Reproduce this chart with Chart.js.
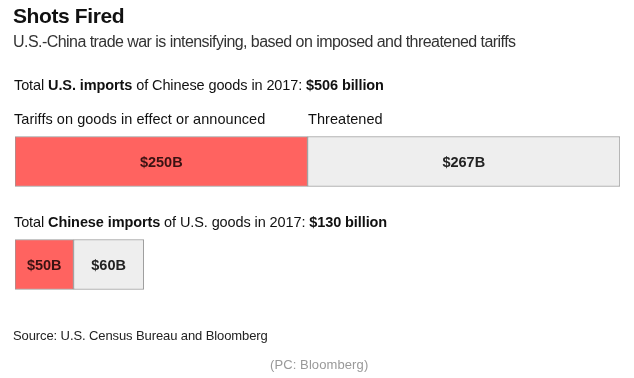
<!DOCTYPE html>
<html><head><meta charset="utf-8">
<script src="https://cdn.jsdelivr.net/npm/chart.js@4/dist/chart.umd.min.js"></script>
<style>
html,body{margin:0;padding:0;background:#fff;}
#wrap{position:relative;width:634px;height:378px;overflow:hidden;font-family:"Liberation Sans",Arial,sans-serif;color:#111;}
#wrap canvas{position:absolute;left:0;top:0;}
.t{position:absolute;white-space:nowrap;}
</style></head>
<body><div id="wrap">
<canvas id="c" width="634" height="378"></canvas>
<div class="t" style="left:13px;top:4px;font-size:21px;font-weight:bold;letter-spacing:-0.4px;">Shots Fired</div>
<div class="t" style="left:13px;top:33px;font-size:16px;color:#333;letter-spacing:-0.55px;">U.S.-China trade war is intensifying, based on imposed and threatened tariffs</div>
<div class="t" style="left:14px;top:77px;font-size:14.5px;letter-spacing:-0.1px;">Total <b>U.S. imports</b> of Chinese goods in 2017: <b>$506 billion</b></div>
<div class="t" style="left:14px;top:111px;font-size:14.5px;letter-spacing:0.05px;">Tariffs on goods in effect or announced</div>
<div class="t" style="left:308px;top:111px;font-size:14.5px;letter-spacing:0.05px;">Threatened</div>
<div class="t" style="left:14px;top:214px;font-size:14.5px;letter-spacing:-0.1px;">Total <b>Chinese imports</b> of U.S. goods in 2017: <b>$130 billion</b></div>
<div class="t" style="left:13px;top:328px;font-size:13px;color:#222;letter-spacing:-0.1px;">Source: U.S. Census Bureau and Bloomberg</div>
<div class="t" style="left:270px;top:357px;font-size:13px;color:#999;letter-spacing:0.1px;">(PC: Bloomberg)</div>
</div>
<script>
const categories = ['U.S. imports of Chinese goods', 'Chinese imports of U.S. goods'];
const inEffect = [250, 50];
const threatened = [267, 60];
const scaleMax = 517;

const labelPlugin = {
  id: 'segLabels',
  afterDatasetsDraw(chart) {
    const ctx = chart.ctx;
    ctx.save();
    ctx.font = 'bold 14.5px "Liberation Sans", Arial, sans-serif';
    ctx.textAlign = 'center';
    ctx.textBaseline = 'middle';
    chart.data.datasets.forEach((ds, di) => {
      chart.getDatasetMeta(di).data.forEach((el, i) => {
        ctx.fillStyle = di === 0 ? '#3a1212' : '#222';
        ctx.fillText('$' + ds.data[i] + 'B', (el.x + el.base) / 2, el.y + 1);
      });
    });
    ctx.restore();
  }
};

new Chart(document.getElementById('c'), {
  type: 'bar',
  data: {
    labels: categories,
    datasets: [
      { label: 'Tariffs on goods in effect or announced', data: inEffect, backgroundColor: '#ff6360', borderColor: '#9a9a9a', borderWidth: 1, borderSkipped: false, barThickness: 50 },
      { label: 'Threatened', data: threatened, backgroundColor: '#eeeeee', borderColor: '#9a9a9a', borderWidth: 1, borderSkipped: false, barThickness: 50 }
    ]
  },
  options: {
    indexAxis: 'y',
    responsive: false,
    animation: false,
    layout: { padding: { left: 15, right: 14, top: 110, bottom: 62 } },
    plugins: { legend: { display: false }, tooltip: { enabled: false } },
    scales: {
      x: { stacked: true, min: 0, max: scaleMax, display: false },
      y: { stacked: true, display: false }
    }
  },
  plugins: [labelPlugin]
});
</script>
</body></html>
